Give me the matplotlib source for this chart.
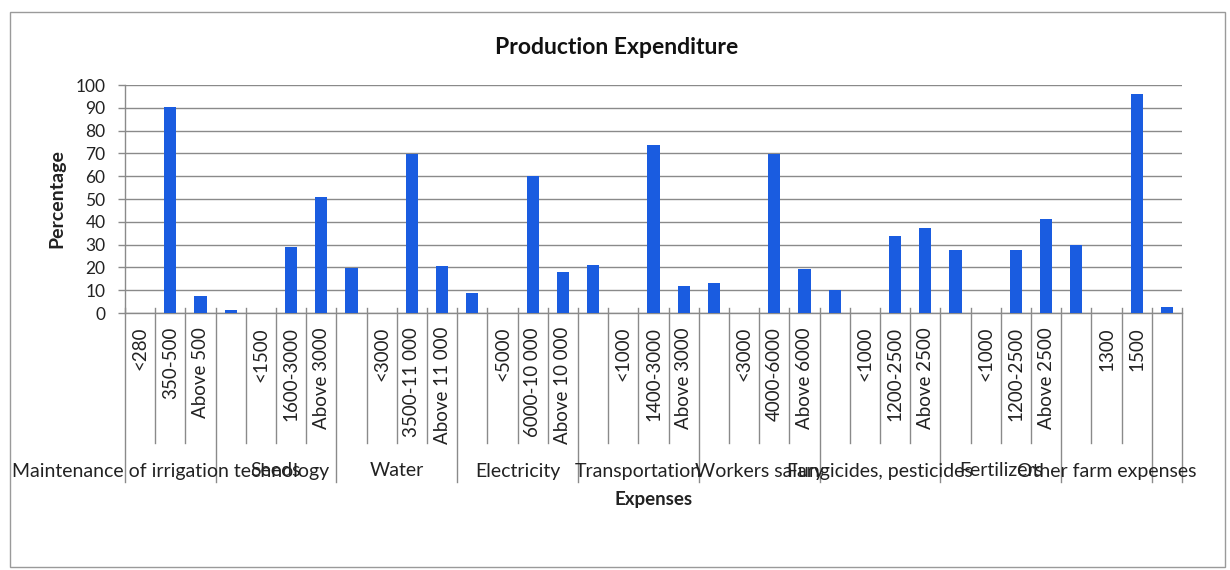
import matplotlib
matplotlib.use("Agg")
import matplotlib.pyplot as plt
from matplotlib.patches import Rectangle
from matplotlib.transforms import blended_transform_factory

plt.rcParams['font.family'] = ['Lato', 'DejaVu Sans']

title = "Production Expenditure"
x_title = "Expenses"
y_title = "Percentage"

groups = ["Maintenance of irrigation technology", "Seeds", "Water", "Electricity",
          "Transportation", "Workers salary", "Fungicides, pesticides", "Fertilizers",
          "Other farm expenses", ""]
group_cats = [
    ["<280", "350-500", "Above 500"],
    ["", "<1500", "1600-3000", "Above 3000"],
    ["", "<3000", "3500-11 000", "Above 11 000"],
    ["", "<5000", "6000-10 000", "Above 10 000"],
    ["", "<1000", "1400-3000", "Above 3000"],
    ["", "<3000", "4000-6000", "Above 6000"],
    ["", "<1000", "1200-2500", "Above 2500"],
    ["", "<1000", "1200-2500", "Above 2500"],
    ["", "1300", "1500"],
    [""],
]
group_vals = [
    [0, 90.5, 7.3],
    [1.2, 0, 28.8, 51],
    [19.8, 0, 69.6, 20.6],
    [8.6, 0, 60, 18.2],
    [21, 0, 73.8, 11.7],
    [13.2, 0, 69.6, 19.2],
    [10.1, 0, 33.7, 37.5],
    [27.5, 0, 27.5, 41.4],
    [29.7, 0, 96],
    [2.6],
]
yticks = list(range(0, 101, 10))

cats = [c for g in group_cats for c in g]
vals = [v for g in group_vals for v in g]
n = len(cats)
xs = list(range(n))

W, H = 1230, 570
fig = plt.figure(figsize=(W / 100, H / 100), dpi=100)
L, R, T, B = 125, 1182, 85, 313
ax = fig.add_axes([L / W, 1 - B / H, (R - L) / W, (B - T) / H])

ax.bar(xs, vals, width=0.4, color='#1a5ce0', zorder=3)
ax.set_xlim(-0.5, n - 0.5)
ax.set_ylim(0, 100)
ax.set_yticks(yticks)
ax.tick_params(axis='y', length=5, width=1, color='#8a8a8a', pad=9, labelsize=12.5,
               labelcolor='#222222')
ax.yaxis.grid(True, color='#8a8a8a', linewidth=1)
ax.set_axisbelow(True)
for s in ['top', 'right']:
    ax.spines[s].set_visible(False)
for s in ['left', 'bottom']:
    ax.spines[s].set_color('#8a8a8a')
    ax.spines[s].set_linewidth(1)

ax.set_xticks(xs)
ax.set_xticklabels(cats, rotation=90, va='top', ha='center', fontsize=13.5, color='#222222')
ax.tick_params(axis='x', length=0, pad=10)

# category separators and group separators
tr = blended_transform_factory(ax.transData, ax.transAxes)
ax_h = B - T
short_end = -(443 - B) / ax_h
long_end = -(482 - B) / ax_h
up = 5 / ax_h
bounds = [0]
for g in group_cats:
    bounds.append(bounds[-1] + len(g))
for k in range(n + 1):
    xb = k - 0.5
    end = long_end if k in bounds else short_end
    ax.plot([xb, xb], [up, end], color='#8a8a8a', lw=1, transform=tr, clip_on=False, zorder=1)

# group labels
for gi, name in enumerate(groups):
    c = (bounds[gi] + bounds[gi + 1] - 1) / 2
    ax.text(c, -(471 - B) / ax_h, name, transform=tr, ha='center', va='center',
            fontsize=14, color='#222222', clip_on=False)

fig.text(((L + R) / 2) / W, 1 - 500 / H, x_title, ha='center', va='center',
         fontsize=13.5, fontweight='bold', color='#222222')
fig.text(57 / W, 1 - ((T + B) / 2) / H, y_title, ha='center', va='center',
         rotation=90, fontsize=14, fontweight='bold', color='#222222')
fig.text(617 / W, 1 - 47 / H, title, ha='center', va='center',
         fontsize=16.5, fontweight='bold', color='#111111')

fig.patches.append(Rectangle((10 / W, 1 - 567 / H), (1225 - 10) / W, (567 - 12) / H,
                             transform=fig.transFigure, fill=False,
                             edgecolor='#9a9a9a', linewidth=1))

fig.savefig('out.png', dpi=100)
